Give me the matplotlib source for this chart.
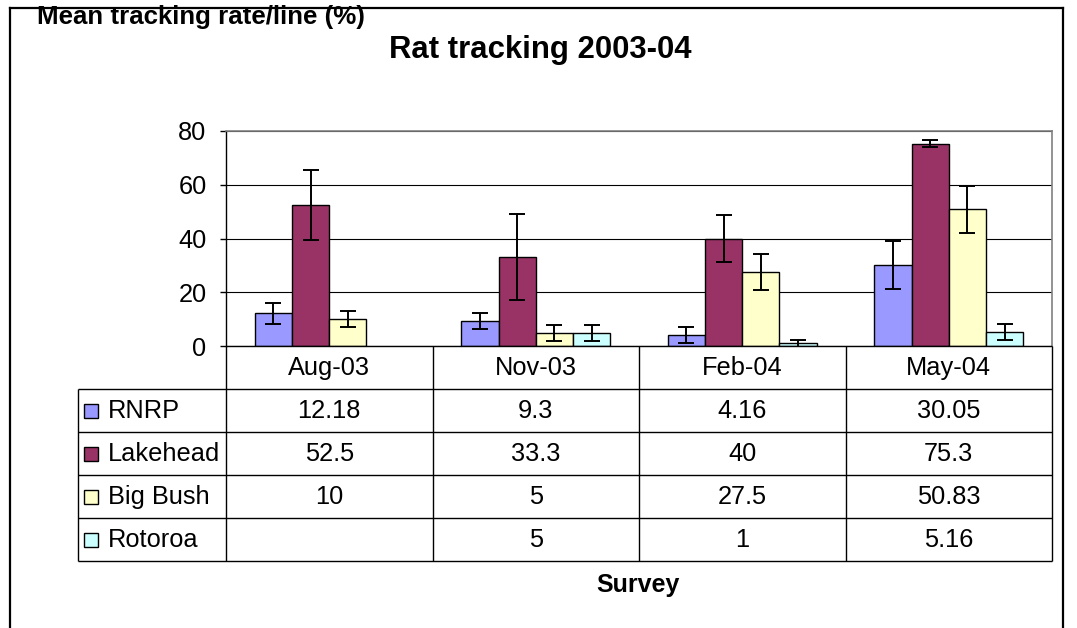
"""
# Rat tracking 2003-04: grouped bars with error bars and an Excel-style data table
"""

### Packages
import numpy as np
import matplotlib
matplotlib.use("Agg")
import matplotlib.pyplot as plt
from matplotlib.lines import Line2D

### Data
surveys = ["Aug-03", "Nov-03", "Feb-04", "May-04"]
series = ["RNRP", "Lakehead", "Big Bush", "Rotoroa"]
rnrp = [12.18, 9.3, 4.16, 30.05]
lakehead = [52.5, 33.3, 40, 75.3]
big_bush = [10, 5, 27.5, 50.83]
rotoroa = [np.nan, 5, 1, 5.16]
rnrp_err = [4, 3, 3, 9]
lakehead_err = [13, 16, 8.7, 1.2]
big_bush_err = [3, 3, 6.8, 8.7]
rotoroa_err = [np.nan, 3, 1.2, 3]
colors = ["#9999FF", "#993366", "#FFFFCC", "#CCFFFF"]
y_ticks = [0, 20, 40, 60, 80]

values = [rnrp, lakehead, big_bush, rotoroa]
errors = [rnrp_err, lakehead_err, big_bush_err, rotoroa_err]

### Figure
plt.rcParams['font.family'] = ['Liberation Sans', 'DejaVu Sans']
W, H = 1077, 628
fig = plt.figure(figsize=(W / 100, H / 100), dpi=100)

# pixel box -> figure fraction
def box(x0, y0, x1, y1):
    return [x0 / W, 1 - y1 / H, (x1 - x0) / W, (y1 - y0) / H]

fs = 18.3

# Bars
ax = fig.add_axes(box(226, 131, 1052, 346))
x = np.arange(len(surveys))
bw = 0.18
for i, (vals, errs) in enumerate(zip(values, errors)):
    pos = x + (i - 1.5) * bw
    ax.bar(pos, vals, width=bw, color=colors[i], edgecolor="black", linewidth=1.0, zorder=3)
    ax.errorbar(pos, vals, yerr=errs, fmt="none", ecolor="black", elinewidth=1.4,
                capsize=5.5, capthick=1.4, zorder=4)
ax.set_xlim(-0.5, len(surveys) - 0.5)
ax.set_ylim(0, 80)
ax.set_yticks(y_ticks)
ax.set_xticks([])
ax.tick_params(axis="y", direction="out", length=4, width=1, pad=10, labelsize=fs)
ax.grid(axis="y", color="black", linewidth=0.8, zorder=0)
ax.spines["left"].set_linewidth(1)
ax.spines["bottom"].set_visible(False)
for s in ["top", "right"]:
    ax.spines[s].set_color("#808080")
    ax.spines[s].set_linewidth(1.2)

# Data table below, columns aligned with the categories
tab = fig.add_axes(box(78, 346, 1052, 561))
left = -0.5 - (226 - 78) / 206.5
tab.set_xlim(left, len(surveys) - 0.5)
tab.set_ylim(len(series) + 1, 0)
tab.axis("off")
lk = dict(color="black", linewidth=1.0, clip_on=False)
bounds = np.arange(len(surveys) + 1) - 0.5
tab.vlines(bounds, 0, len(series) + 1, **lk)
tab.vlines(left, 1, len(series) + 1, **lk)
tab.hlines(0, -0.5, len(surveys) - 0.5, **lk)
tab.hlines(np.arange(1, len(series) + 2), left, len(surveys) - 0.5, **lk)
for j, s in enumerate(surveys):
    tab.text(j, 0.52, s, ha="center", va="center", fontsize=fs)
for i, name in enumerate(series):
    yrow = i + 1.52
    tab.plot([left + 0.062], [yrow], marker="s", markersize=10.5, markerfacecolor=colors[i],
             markeredgecolor="black", markeredgewidth=1, clip_on=False)
    tab.text(left + 0.145, yrow, name, ha="left", va="center", fontsize=fs)
    for j, v in enumerate(values[i]):
        if not np.isnan(v):
            tab.text(j, yrow, "{:g}".format(v), ha="center", va="center", fontsize=fs)

# Titles
fig.text(540 / W, 1 - 50 / H, "Rat tracking 2003-04", ha="center", va="center",
         fontsize=22.4, fontweight="bold")
fig.text(37 / W, 1 - 17 / H, "Mean tracking rate/line (%)", ha="left", va="center",
         fontsize=18.6, fontweight="bold")
fig.text(638 / W, 1 - 585 / H, "Survey", ha="center", va="center",
         fontsize=18, fontweight="bold")

# Outer chart frame (bottom edge is cut off in the original)
fk = dict(color="black", linewidth=1.6, transform=fig.transFigure)
fig.add_artist(Line2D([10 / W, 10 / W], [0, 1 - 8 / H], **fk))
fig.add_artist(Line2D([10 / W, 1063 / W], [1 - 8 / H, 1 - 8 / H], **fk))
fig.add_artist(Line2D([1063 / W, 1063 / W], [0, 1 - 8 / H], **fk))

fig.savefig("out.png", dpi=100)
